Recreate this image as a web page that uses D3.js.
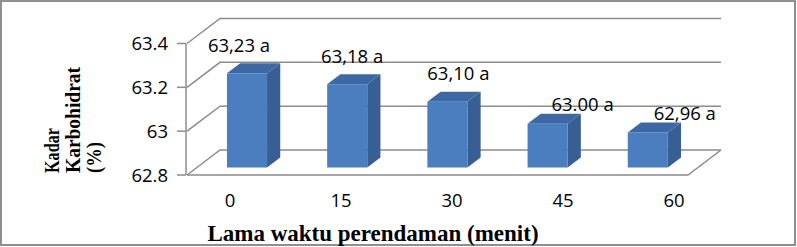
<!DOCTYPE html>
<html>
<head>
<meta charset="utf-8">
<script src="https://cdn.jsdelivr.net/npm/d3@7"></script>
<style>
  body { margin: 0; background: #fff; }
</style>
</head>
<body>
<div class="canvas"></div>
<script>
const categories = ['0', '15', '30', '45', '60'];
const values = [63.23, 63.18, 63.10, 63.00, 62.96];
const valueLabels = ['63,23 a', '63,18 a', '63,10 a', '63.00 a', '62,96 a'];
const yTicks = [62.8, 63, 63.2, 63.4];
const yTickLabels = ['62.8', '63', '63.2', '63.4'];
// labels were dragged by hand in the original, nudge them a bit
const labelNudge = [[-8, 1], [5, 1], [11, 0], [35, 9], [37, 10]];

const width = 797, height = 247;
const depth = {dx: 33, dy: -25};   // full depth of the 3d box
const barFront = 0.3, barBack = 0.7; // bars sit in the middle of the depth

const svg = d3.select('.canvas')
  .append('svg')
  .attr('width', width)
  .attr('height', height);

svg.append('rect')
  .attr('x', 1).attr('y', 1)
  .attr('width', width - 3).attr('height', height - 3)
  .attr('fill', 'none')
  .attr('stroke', '#8f8f8f')
  .attr('stroke-width', 2);

const y = d3.scaleLinear()
  .domain([62.8, 63.4])
  .range([175, 43.5]);

const x = d3.scaleBand()
  .domain(categories)
  .range([187, 688])
  .paddingInner(0.6)
  .paddingOuter(0.3);

const xLab = d3.scalePoint()
  .domain(categories)
  .range([230, 674]);

const grid = svg.append('g')
  .attr('fill', 'none')
  .attr('stroke', '#8c8c8c')
  .attr('stroke-width', 1.5);

const x0 = x.range()[0], x1 = x.range()[1];

// back wall gridlines with the diagonal from the front axis
grid.selectAll('path.grid')
  .data(yTicks)
  .enter()
  .append('path')
  .attr('class', 'grid')
  .attr('d', t => `M${x0},${y(t)}L${x0 + depth.dx},${y(t) + depth.dy}L${x1 + depth.dx},${y(t) + depth.dy}`);

// floor
grid.append('path')
  .attr('d', `M${x0},${y(62.8)}L${x1},${y(62.8)}L${x1 + depth.dx},${y(62.8) + depth.dy}`);

// front vertical axis + ticks
grid.append('line')
  .attr('x1', x0 - 1).attr('x2', x0 - 1)
  .attr('y1', y(63.4)).attr('y2', y(62.8));

grid.selectAll('line.tick')
  .data(yTicks)
  .enter()
  .append('line')
  .attr('class', 'tick')
  .attr('x1', x0 - 10).attr('x2', x0 - 1)
  .attr('y1', d => y(d)).attr('y2', d => y(d));

svg.selectAll('text.ytick')
  .data(yTicks)
  .enter()
  .append('text')
  .attr('class', 'ytick')
  .attr('x', 168)
  .attr('y', d => y(d))
  .attr('dy', '0.36em')
  .attr('text-anchor', 'end')
  .attr('font-family', 'Open Sans, sans-serif')
  .attr('font-size', 18.5)
  .attr('fill', '#000')
  .text((d, i) => yTickLabels[i]);

// bars
const base = 62.8;
const bars = svg.selectAll('g.bar')
  .data(values)
  .enter()
  .append('g')
  .attr('class', 'bar');

const fx = (d, i) => x(categories[i]) + depth.dx * barFront;
const fy = v => y(v) + depth.dy * barFront;
const ddx = depth.dx * (barBack - barFront);
const ddy = depth.dy * (barBack - barFront);
const bw = x.bandwidth();

bars.append('path')
  .attr('fill', '#375f94')
  .attr('d', (d, i) => {
    const l = fx(d, i) + bw, t = fy(d), b = fy(base);
    return `M${l},${t}L${l + ddx},${t + ddy}L${l + ddx},${b + ddy}L${l},${b}Z`;
  });

bars.append('path')
  .attr('fill', '#3d68a3')
  .attr('d', (d, i) => {
    const l = fx(d, i), t = fy(d);
    return `M${l},${t}L${l + ddx},${t + ddy}L${l + bw + ddx},${t + ddy}L${l + bw},${t}Z`;
  });

bars.append('rect')
  .attr('fill', '#4a7ebf')
  .attr('x', (d, i) => fx(d, i))
  .attr('y', d => fy(d))
  .attr('width', bw)
  .attr('height', d => fy(base) - fy(d));

svg.selectAll('text.val')
  .data(values)
  .enter()
  .append('text')
  .attr('class', 'val')
  .attr('x', (d, i) => fx(d, i) + bw / 2 + labelNudge[i][0])
  .attr('y', (d, i) => fy(d) - 22 + labelNudge[i][1])
  .attr('text-anchor', 'middle')
  .attr('font-family', 'Open Sans, sans-serif')
  .attr('font-size', 18.5)
  .attr('fill', '#000')
  .text((d, i) => valueLabels[i]);

svg.selectAll('text.xtick')
  .data(categories)
  .enter()
  .append('text')
  .attr('class', 'xtick')
  .attr('x', d => xLab(d))
  .attr('y', 207)
  .attr('text-anchor', 'middle')
  .attr('font-family', 'Open Sans, sans-serif')
  .attr('font-size', 18.5)
  .attr('fill', '#000')
  .text(d => d);

svg.append('text')
  .attr('x', 373)
  .attr('y', 241)
  .attr('text-anchor', 'middle')
  .attr('font-family', 'Liberation Serif, Times New Roman, serif')
  .attr('font-weight', 'bold')
  .attr('font-size', 23)
  .text('Lama waktu perendaman (menit)');

const yTitle = svg.append('text')
  .attr('transform', 'translate(59,173) rotate(-90)')
  .attr('text-anchor', 'start')
  .attr('font-family', 'Liberation Serif, Times New Roman, serif')
  .attr('font-weight', 'bold')
  .attr('font-size', 20.5);

[['Kadar', 45], ['Karbohidrat', 106], ['(%)', 31]].forEach((s, i) => {
  yTitle.append('tspan')
    .attr('x', 0)
    .attr('y', i * 21)
    .attr('textLength', s[1])
    .attr('lengthAdjust', 'spacingAndGlyphs')
    .text(s[0]);
});
</script>
</body>
</html>
